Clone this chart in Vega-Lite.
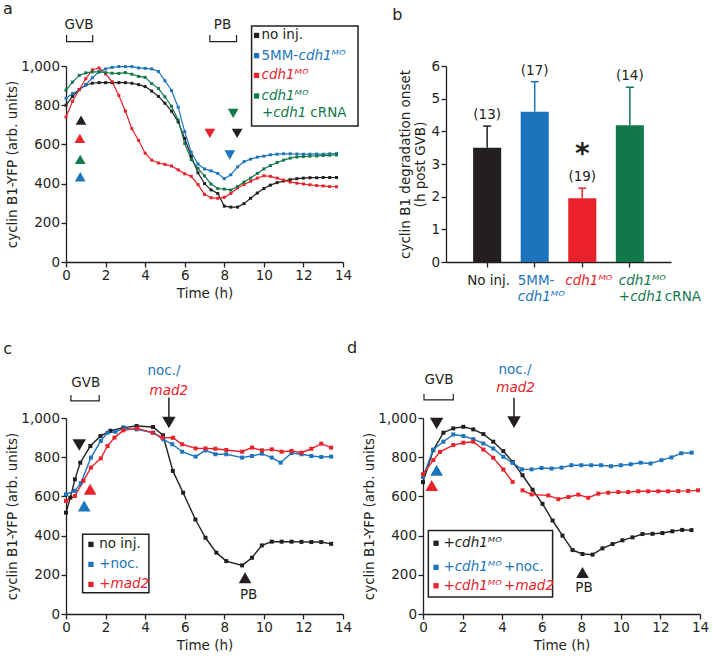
{
"$schema": "https://vega.github.io/schema/vega-lite/v6.json",
"padding": {"left": 3, "top": 1, "right": 5, "bottom": 5},
"background": "white",
"config": {
  "font": "DejaVu Sans",
  "view": {"stroke": null},
  "legend": {"disable": true},
  "axis": {"grid": false, "domainColor": "#231f20", "tickColor": "#231f20", "labelColor": "#231f20", "titleColor": "#231f20", "labelFontSize": 13.5, "titleFontSize": 13.5, "titleFontWeight": "normal", "tickSize": 5, "domainWidth": 1.3, "tickWidth": 1.3, "labelPadding": 1.5, "labelFlush": false, "labelOverlap": false},
  "axisY": {"titlePadding": 1.5},
  "axisX": {"titlePadding": 5, "labelPadding": 1},
  "text": {"fontSize": 13.5}
},
"datasets": {
  "a_lines": [
    {"t":0,"v":800,"s":"no inj."},{"t":0.33,"v":845,"s":"no inj."},{"t":0.67,"v":880,"s":"no inj."},{"t":1,"v":903,"s":"no inj."},{"t":1.33,"v":912,"s":"no inj."},{"t":1.67,"v":915,"s":"no inj."},{"t":2,"v":915,"s":"no inj."},{"t":2.33,"v":915,"s":"no inj."},{"t":2.67,"v":915,"s":"no inj."},{"t":3,"v":915,"s":"no inj."},{"t":3.33,"v":912,"s":"no inj."},{"t":3.67,"v":905,"s":"no inj."},{"t":4,"v":895,"s":"no inj."},{"t":4.33,"v":872,"s":"no inj."},{"t":4.67,"v":845,"s":"no inj."},{"t":5,"v":810,"s":"no inj."},{"t":5.33,"v":770,"s":"no inj."},{"t":5.67,"v":715,"s":"no inj."},{"t":6,"v":630,"s":"no inj."},{"t":6.33,"v":540,"s":"no inj."},{"t":6.67,"v":455,"s":"no inj."},{"t":7,"v":400,"s":"no inj."},{"t":7.33,"v":368,"s":"no inj."},{"t":7.67,"v":350,"s":"no inj."},{"t":8,"v":285,"s":"no inj."},{"t":8.33,"v":280,"s":"no inj."},{"t":8.67,"v":280,"s":"no inj."},{"t":9,"v":298,"s":"no inj."},{"t":9.33,"v":325,"s":"no inj."},{"t":9.67,"v":352,"s":"no inj."},{"t":10,"v":375,"s":"no inj."},{"t":10.33,"v":392,"s":"no inj."},{"t":10.67,"v":405,"s":"no inj."},{"t":11,"v":413,"s":"no inj."},{"t":11.33,"v":420,"s":"no inj."},{"t":11.67,"v":425,"s":"no inj."},{"t":12,"v":428,"s":"no inj."},{"t":12.33,"v":430,"s":"no inj."},{"t":12.67,"v":430,"s":"no inj."},{"t":13,"v":431,"s":"no inj."},{"t":13.33,"v":431,"s":"no inj."},{"t":13.67,"v":431,"s":"no inj."},
    {"t":0,"v":835,"s":"5MM-cdh1MO"},{"t":0.33,"v":860,"s":"5MM-cdh1MO"},{"t":0.67,"v":878,"s":"5MM-cdh1MO"},{"t":1,"v":905,"s":"5MM-cdh1MO"},{"t":1.33,"v":940,"s":"5MM-cdh1MO"},{"t":1.67,"v":970,"s":"5MM-cdh1MO"},{"t":2,"v":985,"s":"5MM-cdh1MO"},{"t":2.33,"v":993,"s":"5MM-cdh1MO"},{"t":2.67,"v":997,"s":"5MM-cdh1MO"},{"t":3,"v":997,"s":"5MM-cdh1MO"},{"t":3.33,"v":997,"s":"5MM-cdh1MO"},{"t":3.67,"v":990,"s":"5MM-cdh1MO"},{"t":4,"v":988,"s":"5MM-cdh1MO"},{"t":4.33,"v":985,"s":"5MM-cdh1MO"},{"t":4.67,"v":972,"s":"5MM-cdh1MO"},{"t":5,"v":925,"s":"5MM-cdh1MO"},{"t":5.33,"v":875,"s":"5MM-cdh1MO"},{"t":5.67,"v":790,"s":"5MM-cdh1MO"},{"t":6,"v":665,"s":"5MM-cdh1MO"},{"t":6.33,"v":560,"s":"5MM-cdh1MO"},{"t":6.67,"v":500,"s":"5MM-cdh1MO"},{"t":7,"v":475,"s":"5MM-cdh1MO"},{"t":7.33,"v":465,"s":"5MM-cdh1MO"},{"t":7.67,"v":452,"s":"5MM-cdh1MO"},{"t":8,"v":425,"s":"5MM-cdh1MO"},{"t":8.33,"v":445,"s":"5MM-cdh1MO"},{"t":8.67,"v":485,"s":"5MM-cdh1MO"},{"t":9,"v":512,"s":"5MM-cdh1MO"},{"t":9.33,"v":525,"s":"5MM-cdh1MO"},{"t":9.67,"v":535,"s":"5MM-cdh1MO"},{"t":10,"v":540,"s":"5MM-cdh1MO"},{"t":10.33,"v":547,"s":"5MM-cdh1MO"},{"t":10.67,"v":550,"s":"5MM-cdh1MO"},{"t":11,"v":552,"s":"5MM-cdh1MO"},{"t":11.33,"v":552,"s":"5MM-cdh1MO"},{"t":11.67,"v":551,"s":"5MM-cdh1MO"},{"t":12,"v":550,"s":"5MM-cdh1MO"},{"t":12.33,"v":550,"s":"5MM-cdh1MO"},{"t":12.67,"v":551,"s":"5MM-cdh1MO"},{"t":13,"v":550,"s":"5MM-cdh1MO"},{"t":13.33,"v":552,"s":"5MM-cdh1MO"},{"t":13.67,"v":553,"s":"5MM-cdh1MO"},
    {"t":0,"v":740,"s":"cdh1MO"},{"t":0.33,"v":820,"s":"cdh1MO"},{"t":0.67,"v":880,"s":"cdh1MO"},{"t":1,"v":935,"s":"cdh1MO"},{"t":1.33,"v":980,"s":"cdh1MO"},{"t":1.67,"v":990,"s":"cdh1MO"},{"t":2,"v":960,"s":"cdh1MO"},{"t":2.33,"v":920,"s":"cdh1MO"},{"t":2.67,"v":850,"s":"cdh1MO"},{"t":3,"v":770,"s":"cdh1MO"},{"t":3.33,"v":680,"s":"cdh1MO"},{"t":3.67,"v":620,"s":"cdh1MO"},{"t":4,"v":555,"s":"cdh1MO"},{"t":4.33,"v":520,"s":"cdh1MO"},{"t":4.67,"v":505,"s":"cdh1MO"},{"t":5,"v":498,"s":"cdh1MO"},{"t":5.33,"v":490,"s":"cdh1MO"},{"t":5.67,"v":470,"s":"cdh1MO"},{"t":6,"v":450,"s":"cdh1MO"},{"t":6.33,"v":437,"s":"cdh1MO"},{"t":6.67,"v":395,"s":"cdh1MO"},{"t":7,"v":345,"s":"cdh1MO"},{"t":7.33,"v":328,"s":"cdh1MO"},{"t":7.67,"v":325,"s":"cdh1MO"},{"t":8,"v":330,"s":"cdh1MO"},{"t":8.33,"v":350,"s":"cdh1MO"},{"t":8.67,"v":378,"s":"cdh1MO"},{"t":9,"v":395,"s":"cdh1MO"},{"t":9.33,"v":412,"s":"cdh1MO"},{"t":9.67,"v":428,"s":"cdh1MO"},{"t":10,"v":440,"s":"cdh1MO"},{"t":10.33,"v":437,"s":"cdh1MO"},{"t":10.67,"v":428,"s":"cdh1MO"},{"t":11,"v":418,"s":"cdh1MO"},{"t":11.33,"v":408,"s":"cdh1MO"},{"t":11.67,"v":402,"s":"cdh1MO"},{"t":12,"v":398,"s":"cdh1MO"},{"t":12.33,"v":394,"s":"cdh1MO"},{"t":12.67,"v":390,"s":"cdh1MO"},{"t":13,"v":388,"s":"cdh1MO"},{"t":13.33,"v":385,"s":"cdh1MO"},{"t":13.67,"v":384,"s":"cdh1MO"},
    {"t":0,"v":877,"s":"cdh1MO+cdh1 cRNA"},{"t":0.33,"v":918,"s":"cdh1MO+cdh1 cRNA"},{"t":0.67,"v":952,"s":"cdh1MO+cdh1 cRNA"},{"t":1,"v":965,"s":"cdh1MO+cdh1 cRNA"},{"t":1.33,"v":970,"s":"cdh1MO+cdh1 cRNA"},{"t":1.67,"v":970,"s":"cdh1MO+cdh1 cRNA"},{"t":2,"v":966,"s":"cdh1MO+cdh1 cRNA"},{"t":2.33,"v":963,"s":"cdh1MO+cdh1 cRNA"},{"t":2.67,"v":962,"s":"cdh1MO+cdh1 cRNA"},{"t":3,"v":966,"s":"cdh1MO+cdh1 cRNA"},{"t":3.33,"v":958,"s":"cdh1MO+cdh1 cRNA"},{"t":3.67,"v":947,"s":"cdh1MO+cdh1 cRNA"},{"t":4,"v":942,"s":"cdh1MO+cdh1 cRNA"},{"t":4.33,"v":910,"s":"cdh1MO+cdh1 cRNA"},{"t":4.67,"v":886,"s":"cdh1MO+cdh1 cRNA"},{"t":5,"v":843,"s":"cdh1MO+cdh1 cRNA"},{"t":5.33,"v":795,"s":"cdh1MO+cdh1 cRNA"},{"t":5.67,"v":725,"s":"cdh1MO+cdh1 cRNA"},{"t":6,"v":605,"s":"cdh1MO+cdh1 cRNA"},{"t":6.33,"v":522,"s":"cdh1MO+cdh1 cRNA"},{"t":6.67,"v":478,"s":"cdh1MO+cdh1 cRNA"},{"t":7,"v":440,"s":"cdh1MO+cdh1 cRNA"},{"t":7.33,"v":398,"s":"cdh1MO+cdh1 cRNA"},{"t":7.67,"v":375,"s":"cdh1MO+cdh1 cRNA"},{"t":8,"v":372,"s":"cdh1MO+cdh1 cRNA"},{"t":8.33,"v":367,"s":"cdh1MO+cdh1 cRNA"},{"t":8.67,"v":385,"s":"cdh1MO+cdh1 cRNA"},{"t":9,"v":408,"s":"cdh1MO+cdh1 cRNA"},{"t":9.33,"v":428,"s":"cdh1MO+cdh1 cRNA"},{"t":9.67,"v":452,"s":"cdh1MO+cdh1 cRNA"},{"t":10,"v":475,"s":"cdh1MO+cdh1 cRNA"},{"t":10.33,"v":492,"s":"cdh1MO+cdh1 cRNA"},{"t":10.67,"v":508,"s":"cdh1MO+cdh1 cRNA"},{"t":11,"v":520,"s":"cdh1MO+cdh1 cRNA"},{"t":11.33,"v":530,"s":"cdh1MO+cdh1 cRNA"},{"t":11.67,"v":536,"s":"cdh1MO+cdh1 cRNA"},{"t":12,"v":538,"s":"cdh1MO+cdh1 cRNA"},{"t":12.33,"v":540,"s":"cdh1MO+cdh1 cRNA"},{"t":12.67,"v":541,"s":"cdh1MO+cdh1 cRNA"},{"t":13,"v":543,"s":"cdh1MO+cdh1 cRNA"},{"t":13.33,"v":545,"s":"cdh1MO+cdh1 cRNA"},{"t":13.67,"v":546,"s":"cdh1MO+cdh1 cRNA"}
  ],
  "a_up": [{"t":0.76,"v":724,"s":"no inj."},{"t":0.7,"v":631,"s":"cdh1MO"},{"t":0.72,"v":524,"s":"cdh1MO+cdh1 cRNA"},{"t":0.72,"v":435,"s":"5MM-cdh1MO"}],
  "a_down": [{"t":7.27,"v":656,"s":"cdh1MO"},{"t":8.65,"v":656,"s":"no inj."},{"t":8.45,"v":758,"s":"cdh1MO+cdh1 cRNA"},{"t":8.28,"v":546,"s":"5MM-cdh1MO"}],
  "a_brk": [{"b":"GVB","o":1,"t":0.03,"v":1158},{"b":"GVB","o":2,"t":0.03,"v":1124},{"b":"GVB","o":3,"t":1.35,"v":1124},{"b":"GVB","o":4,"t":1.35,"v":1158},{"b":"PB","o":1,"t":7.27,"v":1158},{"b":"PB","o":2,"t":7.27,"v":1124},{"b":"PB","o":3,"t":8.62,"v":1124},{"b":"PB","o":4,"t":8.62,"v":1158}],
  "a_tc": [{"t":0.66,"v":1209,"txt":"GVB","s":"no inj."},{"t":7.91,"v":1209,"txt":"PB","s":"no inj."}],
  "a_box": [{"t1":9.38,"t2":14.76,"v1":1204,"v2":694}],
  "a_sq": [{"t":9.63,"v":1156,"s":"no inj."},{"t":9.63,"v":1053,"s":"5MM-cdh1MO"},{"t":9.63,"v":952,"s":"cdh1MO"},{"t":9.63,"v":847,"s":"cdh1MO+cdh1 cRNA"}],
  "a_ln": [{"t":9.88,"v":1156,"txt":"no inj.","s":"no inj."},{"t":9.88,"v":1053,"txt":"5MM-","s":"5MM-cdh1MO"},{"t":12.35,"v":760,"txt":"cRNA","s":"cdh1MO+cdh1 cRNA"}],
  "a_li": [{"t":11.75,"v":1053,"txt":"cdh1ᴹᴼ","s":"5MM-cdh1MO"},{"t":9.88,"v":952,"txt":"cdh1ᴹᴼ","s":"cdh1MO"},{"t":9.88,"v":847,"txt":"cdh1ᴹᴼ","s":"cdh1MO+cdh1 cRNA"},{"t":9.9,"v":760,"txt":"+cdh1","s":"cdh1MO+cdh1 cRNA"}],
  "a_lab": [{"t":-3.18,"v":1265,"txt":"a"}],
  "b_bars": [{"g":"no inj.","m":3.5,"e":4.16,"n":"(13)"},{"g":"5MM-cdh1MO","m":4.6,"e":5.52,"n":"(17)"},{"g":"cdh1MO","m":1.95,"e":2.26,"n":"(19)"},{"g":"cdh1MO+cdh1 cRNA","m":4.19,"e":5.35,"n":"(14)"}],
  "b_n1": [{"g":"no inj.","v":-0.7,"txt":"No inj."}],
  "b_n2": [{"g":"5MM-cdh1MO","v":-0.7,"txt":"5MM-"}],
  "b_i1": [{"g":"5MM-cdh1MO","v":-1.19,"txt":"cdh1ᴹᴼ"},{"g":"cdh1MO","v":-0.7,"txt":"cdh1ᴹᴼ"}],
  "b_i2": [{"g":"cdh1MO+cdh1 cRNA","v":-0.7,"txt":"cdh1ᴹᴼ"},{"g":"cdh1MO+cdh1 cRNA","v":-1.19,"txt":"+cdh1"}],
  "b_n3": [{"g":"cdh1MO+cdh1 cRNA","v":-1.19,"txt":"cRNA"}],
  "b_star": [{"g":"cdh1MO","v":3.03,"txt":"*"}],
  "b_lab": [{"g":"no inj.","v":7.41,"txt":"b"}],
  "c_lines": [
    {"t":0,"v":517,"s":"no inj."},{"t":0.22,"v":594,"s":"no inj."},{"t":0.45,"v":687,"s":"no inj."},{"t":0.72,"v":772,"s":"no inj."},{"t":1.23,"v":857,"s":"no inj."},{"t":1.74,"v":908,"s":"no inj."},{"t":2.24,"v":935,"s":"no inj."},{"t":2.9,"v":951,"s":"no inj."},{"t":3.57,"v":959,"s":"no inj."},{"t":4.4,"v":954,"s":"no inj."},{"t":4.9,"v":912,"s":"no inj."},{"t":5.4,"v":730,"s":"no inj."},{"t":5.92,"v":619,"s":"no inj."},{"t":6.54,"v":482,"s":"no inj."},{"t":7.05,"v":389,"s":"no inj."},{"t":7.6,"v":313,"s":"no inj."},{"t":8.1,"v":270,"s":"no inj."},{"t":8.9,"v":248,"s":"no inj."},{"t":9.4,"v":287,"s":"no inj."},{"t":9.9,"v":350,"s":"no inj."},{"t":10.4,"v":369,"s":"no inj."},{"t":10.9,"v":369,"s":"no inj."},{"t":11.4,"v":369,"s":"no inj."},{"t":11.9,"v":368,"s":"no inj."},{"t":12.4,"v":367,"s":"no inj."},{"t":12.9,"v":367,"s":"no inj."},{"t":13.4,"v":358,"s":"no inj."},
    {"t":0,"v":611,"s":"+noc."},{"t":0.45,"v":628,"s":"+noc."},{"t":0.75,"v":668,"s":"+noc."},{"t":1.26,"v":798,"s":"+noc."},{"t":1.76,"v":883,"s":"+noc."},{"t":2.1,"v":925,"s":"+noc."},{"t":2.5,"v":930,"s":"+noc."},{"t":2.94,"v":947,"s":"+noc."},{"t":3.57,"v":942,"s":"+noc."},{"t":4.41,"v":925,"s":"+noc."},{"t":4.92,"v":891,"s":"+noc."},{"t":5.37,"v":866,"s":"+noc."},{"t":5.87,"v":828,"s":"+noc."},{"t":6.55,"v":803,"s":"+noc."},{"t":7.05,"v":835,"s":"+noc."},{"t":7.55,"v":815,"s":"+noc."},{"t":8.1,"v":815,"s":"+noc."},{"t":8.9,"v":798,"s":"+noc."},{"t":9.4,"v":806,"s":"+noc."},{"t":9.9,"v":818,"s":"+noc."},{"t":10.4,"v":798,"s":"+noc."},{"t":10.85,"v":772,"s":"+noc."},{"t":11.4,"v":821,"s":"+noc."},{"t":11.9,"v":815,"s":"+noc."},{"t":12.4,"v":806,"s":"+noc."},{"t":12.9,"v":801,"s":"+noc."},{"t":13.4,"v":803,"s":"+noc."},
    {"t":0,"v":577,"s":"+mad2"},{"t":0.45,"v":602,"s":"+mad2"},{"t":0.88,"v":679,"s":"+mad2"},{"t":1.26,"v":747,"s":"+mad2"},{"t":1.76,"v":794,"s":"+mad2"},{"t":2.1,"v":857,"s":"+mad2"},{"t":2.45,"v":900,"s":"+mad2"},{"t":2.9,"v":937,"s":"+mad2"},{"t":3.6,"v":947,"s":"+mad2"},{"t":4.37,"v":925,"s":"+mad2"},{"t":4.87,"v":900,"s":"+mad2"},{"t":5.4,"v":899,"s":"+mad2"},{"t":5.87,"v":866,"s":"+mad2"},{"t":6.55,"v":845,"s":"+mad2"},{"t":7.05,"v":845,"s":"+mad2"},{"t":7.55,"v":843,"s":"+mad2"},{"t":8.1,"v":837,"s":"+mad2"},{"t":8.9,"v":828,"s":"+mad2"},{"t":9.4,"v":849,"s":"+mad2"},{"t":9.9,"v":835,"s":"+mad2"},{"t":10.4,"v":840,"s":"+mad2"},{"t":10.9,"v":828,"s":"+mad2"},{"t":11.4,"v":832,"s":"+mad2"},{"t":11.9,"v":823,"s":"+mad2"},{"t":12.4,"v":843,"s":"+mad2"},{"t":12.9,"v":869,"s":"+mad2"},{"t":13.4,"v":849,"s":"+mad2"}
  ],
  "c_up": [{"t":1.22,"v":636,"s":"+mad2"},{"t":0.92,"v":551,"s":"+noc."},{"t":9.05,"v":185,"s":"no inj."}],
  "c_down": [{"t":0.67,"v":862,"s":"no inj."},{"t":5.2,"v":977,"s":"no inj."}],
  "c_arrow": [{"t":5.2,"v":1104,"v2":985}],
  "c_brk": [{"b":"GVB","o":1,"t":0.25,"v":1117},{"b":"GVB","o":2,"t":0.25,"v":1087},{"b":"GVB","o":3,"t":1.68,"v":1087},{"b":"GVB","o":4,"t":1.68,"v":1117}],
  "c_tc": [{"t":1.0,"v":1180,"txt":"GVB","s":"no inj."},{"t":9.23,"v":97,"txt":"PB","s":"no inj."},{"t":4.95,"v":1240,"txt":"noc./","s":"+noc."}],
  "c_tic": [{"t":5.2,"v":1138,"txt":"mad2","s":"+mad2"}],
  "c_box": [{"t1":0.84,"t2":4.19,"v1":407,"v2":109}],
  "c_sq": [{"t":1.26,"v":355,"s":"no inj."},{"t":1.26,"v":253,"s":"+noc."},{"t":1.26,"v":151,"s":"+mad2"}],
  "c_ln": [{"t":1.68,"v":355,"txt":"no inj.","s":"no inj."},{"t":1.68,"v":253,"txt":"+noc.","s":"+noc."},{"t":1.68,"v":151,"txt":"+","s":"+mad2"}],
  "c_li": [{"t":2.25,"v":151,"txt":"mad2","s":"+mad2"}],
  "c_lab": [{"t":-3.17,"v":1327,"txt":"c"}],
  "d_lines": [
    {"t":0,"v":673,"s":"+cdh1MO"},{"t":0.52,"v":836,"s":"+cdh1MO"},{"t":1.03,"v":925,"s":"+cdh1MO"},{"t":1.53,"v":947,"s":"+cdh1MO"},{"t":2.04,"v":955,"s":"+cdh1MO"},{"t":2.54,"v":942,"s":"+cdh1MO"},{"t":3.05,"v":918,"s":"+cdh1MO"},{"t":3.55,"v":879,"s":"+cdh1MO"},{"t":4.06,"v":831,"s":"+cdh1MO"},{"t":4.53,"v":776,"s":"+cdh1MO"},{"t":5.03,"v":708,"s":"+cdh1MO"},{"t":5.54,"v":634,"s":"+cdh1MO"},{"t":6.04,"v":562,"s":"+cdh1MO"},{"t":6.55,"v":477,"s":"+cdh1MO"},{"t":7.05,"v":400,"s":"+cdh1MO"},{"t":7.56,"v":326,"s":"+cdh1MO"},{"t":8.06,"v":306,"s":"+cdh1MO"},{"t":8.57,"v":303,"s":"+cdh1MO"},{"t":9.07,"v":335,"s":"+cdh1MO"},{"t":9.58,"v":357,"s":"+cdh1MO"},{"t":10.08,"v":376,"s":"+cdh1MO"},{"t":10.59,"v":391,"s":"+cdh1MO"},{"t":11.09,"v":408,"s":"+cdh1MO"},{"t":11.6,"v":409,"s":"+cdh1MO"},{"t":12.1,"v":413,"s":"+cdh1MO"},{"t":12.6,"v":422,"s":"+cdh1MO"},{"t":13.1,"v":429,"s":"+cdh1MO"},{"t":13.57,"v":428,"s":"+cdh1MO"},
    {"t":0,"v":699,"s":"+cdh1MO+noc."},{"t":0.52,"v":839,"s":"+cdh1MO+noc."},{"t":1.03,"v":879,"s":"+cdh1MO+noc."},{"t":1.53,"v":916,"s":"+cdh1MO+noc."},{"t":2.04,"v":908,"s":"+cdh1MO+noc."},{"t":2.54,"v":892,"s":"+cdh1MO+noc."},{"t":3.05,"v":870,"s":"+cdh1MO+noc."},{"t":3.55,"v":844,"s":"+cdh1MO+noc."},{"t":4.06,"v":802,"s":"+cdh1MO+noc."},{"t":4.53,"v":771,"s":"+cdh1MO+noc."},{"t":5.0,"v":738,"s":"+cdh1MO+noc."},{"t":5.49,"v":738,"s":"+cdh1MO+noc."},{"t":5.99,"v":745,"s":"+cdh1MO+noc."},{"t":6.5,"v":742,"s":"+cdh1MO+noc."},{"t":7.0,"v":747,"s":"+cdh1MO+noc."},{"t":7.5,"v":759,"s":"+cdh1MO+noc."},{"t":8.0,"v":759,"s":"+cdh1MO+noc."},{"t":8.5,"v":759,"s":"+cdh1MO+noc."},{"t":9.0,"v":759,"s":"+cdh1MO+noc."},{"t":9.5,"v":754,"s":"+cdh1MO+noc."},{"t":10.0,"v":759,"s":"+cdh1MO+noc."},{"t":10.5,"v":764,"s":"+cdh1MO+noc."},{"t":11.0,"v":772,"s":"+cdh1MO+noc."},{"t":11.5,"v":768,"s":"+cdh1MO+noc."},{"t":12.05,"v":785,"s":"+cdh1MO+noc."},{"t":12.55,"v":799,"s":"+cdh1MO+noc."},{"t":13.05,"v":820,"s":"+cdh1MO+noc."},{"t":13.58,"v":823,"s":"+cdh1MO+noc."},
    {"t":0,"v":713,"s":"+cdh1MO+mad2","seg":1},{"t":0.52,"v":785,"s":"+cdh1MO+mad2","seg":1},{"t":0.86,"v":827,"s":"+cdh1MO+mad2","seg":1},{"t":1.53,"v":862,"s":"+cdh1MO+mad2","seg":1},{"t":2.04,"v":874,"s":"+cdh1MO+mad2","seg":1},{"t":2.54,"v":879,"s":"+cdh1MO+mad2","seg":1},{"t":3.05,"v":839,"s":"+cdh1MO+mad2","seg":1},{"t":3.55,"v":797,"s":"+cdh1MO+mad2","seg":1},{"t":4.06,"v":737,"s":"+cdh1MO+mad2","seg":1},{"t":4.53,"v":674,"s":"+cdh1MO+mad2","seg":1},
    {"t":5.03,"v":631,"s":"+cdh1MO+mad2","seg":2},{"t":5.49,"v":610,"s":"+cdh1MO+mad2","seg":2},{"t":6.33,"v":605,"s":"+cdh1MO+mad2","seg":2},{"t":6.84,"v":586,"s":"+cdh1MO+mad2","seg":2},{"t":7.35,"v":597,"s":"+cdh1MO+mad2","seg":2},{"t":7.85,"v":609,"s":"+cdh1MO+mad2","seg":2},{"t":8.35,"v":593,"s":"+cdh1MO+mad2","seg":2},{"t":8.86,"v":614,"s":"+cdh1MO+mad2","seg":2},{"t":9.36,"v":619,"s":"+cdh1MO+mad2","seg":2},{"t":9.87,"v":622,"s":"+cdh1MO+mad2","seg":2},{"t":10.37,"v":622,"s":"+cdh1MO+mad2","seg":2},{"t":10.88,"v":626,"s":"+cdh1MO+mad2","seg":2},{"t":11.38,"v":626,"s":"+cdh1MO+mad2","seg":2},{"t":11.89,"v":626,"s":"+cdh1MO+mad2","seg":2},{"t":12.39,"v":626,"s":"+cdh1MO+mad2","seg":2},{"t":12.9,"v":627,"s":"+cdh1MO+mad2","seg":2},{"t":13.4,"v":628,"s":"+cdh1MO+mad2","seg":2},{"t":13.9,"v":631,"s":"+cdh1MO+mad2","seg":2}
  ],
  "d_up": [{"t":0.69,"v":733,"s":"+cdh1MO+noc."},{"t":0.44,"v":656,"s":"+cdh1MO+mad2"},{"t":8.06,"v":212,"s":"+cdh1MO"}],
  "d_down": [{"t":0.69,"v":972,"s":"+cdh1MO"},{"t":4.6,"v":979,"s":"+cdh1MO"}],
  "d_arrow": [{"t":4.6,"v":1103,"v2":985}],
  "d_brk": [{"b":"GVB","o":1,"t":0.05,"v":1123},{"b":"GVB","o":2,"t":0.05,"v":1092},{"b":"GVB","o":3,"t":1.53,"v":1092},{"b":"GVB","o":4,"t":1.53,"v":1123}],
  "d_tc": [{"t":0.81,"v":1195,"txt":"GVB","s":"+cdh1MO"},{"t":8.14,"v":135,"txt":"PB","s":"+cdh1MO"},{"t":4.65,"v":1246,"txt":"noc./","s":"+cdh1MO+noc."}],
  "d_tic": [{"t":4.68,"v":1152,"txt":"mad2","s":"+cdh1MO+mad2"}],
  "d_box": [{"t1":0.27,"t2":6.55,"v1":426,"v2":87}],
  "d_sq": [{"t":0.66,"v":361,"s":"+cdh1MO"},{"t":0.66,"v":238,"s":"+cdh1MO+noc."},{"t":0.66,"v":144,"s":"+cdh1MO+mad2"}],
  "d_ln": [{"t":1.03,"v":361,"txt":"+","s":"+cdh1MO"},{"t":1.03,"v":238,"txt":"+","s":"+cdh1MO+noc."},{"t":4.09,"v":238,"txt":"+noc.","s":"+cdh1MO+noc."},{"t":1.03,"v":144,"txt":"+","s":"+cdh1MO+mad2"},{"t":4.09,"v":144,"txt":"+","s":"+cdh1MO+mad2"}],
  "d_li": [{"t":1.6,"v":361,"txt":"cdh1ᴹᴼ","s":"+cdh1MO"},{"t":1.6,"v":238,"txt":"cdh1ᴹᴼ","s":"+cdh1MO+noc."},{"t":1.6,"v":144,"txt":"cdh1ᴹᴼ","s":"+cdh1MO+mad2"},{"t":4.67,"v":144,"txt":"mad2","s":"+cdh1MO+mad2"}],
  "d_lab": [{"t":-3.84,"v":1333,"txt":"d"}]
},
"spacing": 35,
"resolve": {"scale": {"color": "independent"}},
"vconcat": [
  {"bounds": "flush", "spacing": 103, "resolve": {"scale": {"color": "independent"}}, "hconcat": [
    {"width": 277, "height": 196, "layer": [
      {"data": {"name": "a_box"}, "mark": {"type": "rect", "fill": "white", "stroke": "#231f20", "strokeWidth": 1.5}, "encoding": {"x": {"field": "t1", "type": "quantitative"}, "x2": {"field": "t2"}, "y": {"field": "v1", "type": "quantitative"}, "y2": {"field": "v2"}}},
      {"data": {"name": "a_lines"}, "mark": {"type": "line", "strokeWidth": 1.2, "point": {"shape": "square", "size": 9, "filled": true, "opacity": 1}},
       "encoding": {
         "x": {"field": "t", "type": "quantitative", "scale": {"domain": [0, 14], "nice": false}, "axis": {"values": [0,2,4,6,8,10,12,14], "labelOverlap": false, "tickCount": 8, "title": "Time (h)"}},
         "y": {"field": "v", "type": "quantitative", "scale": {"domain": [0, 1000], "nice": false}, "axis": {"values": [0,200,400,600,800,1000], "labelOverlap": false, "tickCount": 6, "format": ",d", "title": "cyclin B1-YFP (arb. units)"}},
         "color": {"field": "s", "type": "nominal", "scale": {"domain": ["no inj.","5MM-cdh1MO","cdh1MO","cdh1MO+cdh1 cRNA"], "range": ["#231f20","#1c75bc","#e8212a","#11784a"]}}}},
      {"data": {"name": "a_up"}, "mark": {"type": "point", "shape": "triangle-up", "filled": true, "size": 115, "opacity": 1}, "encoding": {"x": {"field": "t", "type": "quantitative"}, "y": {"field": "v", "type": "quantitative"}, "color": {"field": "s", "type": "nominal"}}},
      {"data": {"name": "a_down"}, "mark": {"type": "point", "shape": "triangle-down", "filled": true, "size": 115, "opacity": 1}, "encoding": {"x": {"field": "t", "type": "quantitative"}, "y": {"field": "v", "type": "quantitative"}, "color": {"field": "s", "type": "nominal"}}},
      {"data": {"name": "a_brk"}, "mark": {"type": "line", "color": "#231f20", "strokeWidth": 1.2}, "encoding": {"x": {"field": "t", "type": "quantitative"}, "y": {"field": "v", "type": "quantitative"}, "detail": {"field": "b", "type": "nominal"}, "order": {"field": "o", "type": "quantitative"}}},
      {"data": {"name": "a_tc"}, "mark": {"type": "text", "align": "center", "baseline": "middle"}, "encoding": {"x": {"field": "t", "type": "quantitative"}, "y": {"field": "v", "type": "quantitative"}, "text": {"field": "txt"}, "color": {"field": "s", "type": "nominal"}}},
      {"data": {"name": "a_sq"}, "mark": {"type": "point", "shape": "square", "filled": true, "size": 28, "opacity": 1}, "encoding": {"x": {"field": "t", "type": "quantitative"}, "y": {"field": "v", "type": "quantitative"}, "color": {"field": "s", "type": "nominal"}}},
      {"data": {"name": "a_ln"}, "mark": {"type": "text", "align": "left", "baseline": "middle"}, "encoding": {"x": {"field": "t", "type": "quantitative"}, "y": {"field": "v", "type": "quantitative"}, "text": {"field": "txt"}, "color": {"field": "s", "type": "nominal"}}},
      {"data": {"name": "a_li"}, "mark": {"type": "text", "align": "left", "baseline": "middle", "fontStyle": "italic"}, "encoding": {"x": {"field": "t", "type": "quantitative"}, "y": {"field": "v", "type": "quantitative"}, "text": {"field": "txt"}, "color": {"field": "s", "type": "nominal"}}},
      {"data": {"name": "a_lab"}, "mark": {"type": "text", "align": "left", "baseline": "alphabetic", "fontSize": 16, "color": "#231f20"}, "encoding": {"x": {"field": "t", "type": "quantitative"}, "y": {"field": "v", "type": "quantitative"}, "text": {"field": "txt"}}}
    ]},
    {"width": 225, "height": 196, "layer": [
      {"data": {"name": "b_bars"}, "mark": {"type": "bar"},
       "encoding": {
         "x": {"field": "g", "type": "nominal", "scale": {"domain": ["no inj.","5MM-cdh1MO","cdh1MO","cdh1MO+cdh1 cRNA"], "paddingInner": 0.41, "paddingOuter": 0.57}, "axis": {"labels": false, "title": null, "ticks": true, "domain": true}},
         "y": {"field": "m", "type": "quantitative", "scale": {"domain": [0, 6], "nice": false}, "axis": {"values": [0,1,2,3,4,5,6], "labelOverlap": false, "tickCount": 7, "title": ["cyclin B1 degradation onset", "(h post GVB)"], "titleLineHeight": 14.5, "titlePadding": 3.5}},
         "color": {"field": "g", "type": "nominal", "scale": {"domain": ["no inj.","5MM-cdh1MO","cdh1MO","cdh1MO+cdh1 cRNA"], "range": ["#231f20","#1c75bc","#e8212a","#11784a"]}}}},
      {"data": {"name": "b_bars"}, "mark": {"type": "rule", "strokeWidth": 1.5}, "encoding": {"x": {"field": "g", "type": "nominal"}, "y": {"field": "m", "type": "quantitative"}, "y2": {"field": "e"}, "color": {"field": "g", "type": "nominal"}}},
      {"data": {"name": "b_bars"}, "mark": {"type": "tick", "thickness": 1.5, "size": 8, "opacity": 1}, "encoding": {"x": {"field": "g", "type": "nominal"}, "y": {"field": "e", "type": "quantitative"}, "color": {"field": "g", "type": "nominal"}}},
      {"data": {"name": "b_bars"}, "mark": {"type": "text", "align": "center", "baseline": "middle", "dy": -11, "color": "#231f20"}, "encoding": {"x": {"field": "g", "type": "nominal"}, "y": {"field": "e", "type": "quantitative"}, "text": {"field": "n"}}},
      {"data": {"name": "b_star"}, "mark": {"type": "text", "align": "center", "baseline": "alphabetic", "fontSize": 28, "fontWeight": "bold", "color": "#231f20"}, "encoding": {"x": {"field": "g", "type": "nominal"}, "y": {"field": "v", "type": "quantitative"}, "text": {"field": "txt"}}},
      {"data": {"name": "b_n1"}, "mark": {"type": "text", "align": "left", "baseline": "alphabetic", "dx": -20}, "encoding": {"x": {"field": "g", "type": "nominal"}, "y": {"field": "v", "type": "quantitative"}, "text": {"field": "txt"}, "color": {"field": "g", "type": "nominal"}}},
      {"data": {"name": "b_n2"}, "mark": {"type": "text", "align": "left", "baseline": "alphabetic", "dx": -17}, "encoding": {"x": {"field": "g", "type": "nominal"}, "y": {"field": "v", "type": "quantitative"}, "text": {"field": "txt"}, "color": {"field": "g", "type": "nominal"}}},
      {"data": {"name": "b_i1"}, "mark": {"type": "text", "align": "left", "baseline": "alphabetic", "dx": -17, "fontStyle": "italic"}, "encoding": {"x": {"field": "g", "type": "nominal"}, "y": {"field": "v", "type": "quantitative"}, "text": {"field": "txt"}, "color": {"field": "g", "type": "nominal"}}},
      {"data": {"name": "b_i2"}, "mark": {"type": "text", "align": "left", "baseline": "alphabetic", "dx": -11, "fontStyle": "italic"}, "encoding": {"x": {"field": "g", "type": "nominal"}, "y": {"field": "v", "type": "quantitative"}, "text": {"field": "txt"}, "color": {"field": "g", "type": "nominal"}}},
      {"data": {"name": "b_n3"}, "mark": {"type": "text", "align": "left", "baseline": "alphabetic", "dx": 35}, "encoding": {"x": {"field": "g", "type": "nominal"}, "y": {"field": "v", "type": "quantitative"}, "text": {"field": "txt"}, "color": {"field": "g", "type": "nominal"}}},
      {"data": {"name": "b_lab"}, "mark": {"type": "text", "align": "left", "baseline": "alphabetic", "fontSize": 16, "dx": -95, "color": "#231f20"}, "encoding": {"x": {"field": "g", "type": "nominal"}, "y": {"field": "v", "type": "quantitative"}, "text": {"field": "txt"}}}
    ]}
  ]},
  {"bounds": "flush", "spacing": 80, "resolve": {"scale": {"color": "independent"}}, "hconcat": [
    {"width": 277, "height": 196, "layer": [
      {"data": {"name": "c_box"}, "mark": {"type": "rect", "fill": "white", "stroke": "#231f20", "strokeWidth": 1.5}, "encoding": {"x": {"field": "t1", "type": "quantitative"}, "x2": {"field": "t2"}, "y": {"field": "v1", "type": "quantitative"}, "y2": {"field": "v2"}}},
      {"data": {"name": "c_lines"}, "mark": {"type": "line", "strokeWidth": 1.4, "point": {"shape": "square", "size": 16, "filled": true, "opacity": 1}},
       "encoding": {
         "x": {"field": "t", "type": "quantitative", "scale": {"domain": [0, 14], "nice": false}, "axis": {"values": [0,2,4,6,8,10,12,14], "labelOverlap": false, "tickCount": 8, "title": "Time (h)"}},
         "y": {"field": "v", "type": "quantitative", "scale": {"domain": [0, 1000], "nice": false}, "axis": {"values": [0,200,400,600,800,1000], "labelOverlap": false, "tickCount": 6, "format": ",d", "title": "cyclin B1-YFP (arb. units)"}},
         "color": {"field": "s", "type": "nominal", "scale": {"domain": ["no inj.","+noc.","+mad2"], "range": ["#231f20","#1c75bc","#e8212a"]}}}},
      {"data": {"name": "c_arrow"}, "mark": {"type": "rule", "color": "#231f20", "strokeWidth": 1.5}, "encoding": {"x": {"field": "t", "type": "quantitative"}, "y": {"field": "v", "type": "quantitative"}, "y2": {"field": "v2"}}},
      {"data": {"name": "c_up"}, "mark": {"type": "point", "shape": "triangle-up", "filled": true, "size": 160, "opacity": 1}, "encoding": {"x": {"field": "t", "type": "quantitative"}, "y": {"field": "v", "type": "quantitative"}, "color": {"field": "s", "type": "nominal"}}},
      {"data": {"name": "c_down"}, "mark": {"type": "point", "shape": "triangle-down", "filled": true, "size": 180, "opacity": 1}, "encoding": {"x": {"field": "t", "type": "quantitative"}, "y": {"field": "v", "type": "quantitative"}, "color": {"field": "s", "type": "nominal"}}},
      {"data": {"name": "c_brk"}, "mark": {"type": "line", "color": "#231f20", "strokeWidth": 1.2}, "encoding": {"x": {"field": "t", "type": "quantitative"}, "y": {"field": "v", "type": "quantitative"}, "detail": {"field": "b", "type": "nominal"}, "order": {"field": "o", "type": "quantitative"}}},
      {"data": {"name": "c_tc"}, "mark": {"type": "text", "align": "center", "baseline": "middle"}, "encoding": {"x": {"field": "t", "type": "quantitative"}, "y": {"field": "v", "type": "quantitative"}, "text": {"field": "txt"}, "color": {"field": "s", "type": "nominal"}}},
      {"data": {"name": "c_tic"}, "mark": {"type": "text", "align": "center", "baseline": "middle", "fontStyle": "italic"}, "encoding": {"x": {"field": "t", "type": "quantitative"}, "y": {"field": "v", "type": "quantitative"}, "text": {"field": "txt"}, "color": {"field": "s", "type": "nominal"}}},
      {"data": {"name": "c_sq"}, "mark": {"type": "point", "shape": "square", "filled": true, "size": 28, "opacity": 1}, "encoding": {"x": {"field": "t", "type": "quantitative"}, "y": {"field": "v", "type": "quantitative"}, "color": {"field": "s", "type": "nominal"}}},
      {"data": {"name": "c_ln"}, "mark": {"type": "text", "align": "left", "baseline": "middle"}, "encoding": {"x": {"field": "t", "type": "quantitative"}, "y": {"field": "v", "type": "quantitative"}, "text": {"field": "txt"}, "color": {"field": "s", "type": "nominal"}}},
      {"data": {"name": "c_li"}, "mark": {"type": "text", "align": "left", "baseline": "middle", "fontStyle": "italic"}, "encoding": {"x": {"field": "t", "type": "quantitative"}, "y": {"field": "v", "type": "quantitative"}, "text": {"field": "txt"}, "color": {"field": "s", "type": "nominal"}}},
      {"data": {"name": "c_lab"}, "mark": {"type": "text", "align": "left", "baseline": "alphabetic", "fontSize": 16, "color": "#231f20"}, "encoding": {"x": {"field": "t", "type": "quantitative"}, "y": {"field": "v", "type": "quantitative"}, "text": {"field": "txt"}}}
    ]},
    {"width": 277, "height": 196, "layer": [
      {"data": {"name": "d_box"}, "mark": {"type": "rect", "fill": "white", "stroke": "#231f20", "strokeWidth": 1.5}, "encoding": {"x": {"field": "t1", "type": "quantitative"}, "x2": {"field": "t2"}, "y": {"field": "v1", "type": "quantitative"}, "y2": {"field": "v2"}}},
      {"data": {"name": "d_lines"}, "mark": {"type": "line", "strokeWidth": 1.4, "point": {"shape": "square", "size": 16, "filled": true, "opacity": 1}},
       "encoding": {
         "x": {"field": "t", "type": "quantitative", "scale": {"domain": [0, 14], "nice": false}, "axis": {"values": [0,2,4,6,8,10,12,14], "labelOverlap": false, "tickCount": 8, "title": "Time (h)"}},
         "y": {"field": "v", "type": "quantitative", "scale": {"domain": [0, 1000], "nice": false}, "axis": {"values": [0,200,400,600,800,1000], "labelOverlap": false, "tickCount": 6, "format": ",d", "title": "cyclin B1-YFP (arb. units)"}},
         "color": {"field": "s", "type": "nominal", "scale": {"domain": ["+cdh1MO","+cdh1MO+noc.","+cdh1MO+mad2"], "range": ["#231f20","#1c75bc","#e8212a"]}},
         "detail": {"field": "seg", "type": "nominal"}}},
      {"data": {"name": "d_arrow"}, "mark": {"type": "rule", "color": "#231f20", "strokeWidth": 1.5}, "encoding": {"x": {"field": "t", "type": "quantitative"}, "y": {"field": "v", "type": "quantitative"}, "y2": {"field": "v2"}}},
      {"data": {"name": "d_up"}, "mark": {"type": "point", "shape": "triangle-up", "filled": true, "size": 160, "opacity": 1}, "encoding": {"x": {"field": "t", "type": "quantitative"}, "y": {"field": "v", "type": "quantitative"}, "color": {"field": "s", "type": "nominal"}}},
      {"data": {"name": "d_down"}, "mark": {"type": "point", "shape": "triangle-down", "filled": true, "size": 180, "opacity": 1}, "encoding": {"x": {"field": "t", "type": "quantitative"}, "y": {"field": "v", "type": "quantitative"}, "color": {"field": "s", "type": "nominal"}}},
      {"data": {"name": "d_brk"}, "mark": {"type": "line", "color": "#231f20", "strokeWidth": 1.2}, "encoding": {"x": {"field": "t", "type": "quantitative"}, "y": {"field": "v", "type": "quantitative"}, "detail": {"field": "b", "type": "nominal"}, "order": {"field": "o", "type": "quantitative"}}},
      {"data": {"name": "d_tc"}, "mark": {"type": "text", "align": "center", "baseline": "middle"}, "encoding": {"x": {"field": "t", "type": "quantitative"}, "y": {"field": "v", "type": "quantitative"}, "text": {"field": "txt"}, "color": {"field": "s", "type": "nominal"}}},
      {"data": {"name": "d_tic"}, "mark": {"type": "text", "align": "center", "baseline": "middle", "fontStyle": "italic"}, "encoding": {"x": {"field": "t", "type": "quantitative"}, "y": {"field": "v", "type": "quantitative"}, "text": {"field": "txt"}, "color": {"field": "s", "type": "nominal"}}},
      {"data": {"name": "d_sq"}, "mark": {"type": "point", "shape": "square", "filled": true, "size": 28, "opacity": 1}, "encoding": {"x": {"field": "t", "type": "quantitative"}, "y": {"field": "v", "type": "quantitative"}, "color": {"field": "s", "type": "nominal"}}},
      {"data": {"name": "d_ln"}, "mark": {"type": "text", "align": "left", "baseline": "middle"}, "encoding": {"x": {"field": "t", "type": "quantitative"}, "y": {"field": "v", "type": "quantitative"}, "text": {"field": "txt"}, "color": {"field": "s", "type": "nominal"}}},
      {"data": {"name": "d_li"}, "mark": {"type": "text", "align": "left", "baseline": "middle", "fontStyle": "italic"}, "encoding": {"x": {"field": "t", "type": "quantitative"}, "y": {"field": "v", "type": "quantitative"}, "text": {"field": "txt"}, "color": {"field": "s", "type": "nominal"}}},
      {"data": {"name": "d_lab"}, "mark": {"type": "text", "align": "left", "baseline": "alphabetic", "fontSize": 16, "color": "#231f20"}, "encoding": {"x": {"field": "t", "type": "quantitative"}, "y": {"field": "v", "type": "quantitative"}, "text": {"field": "txt"}}}
    ]}
  ]}
]
}
